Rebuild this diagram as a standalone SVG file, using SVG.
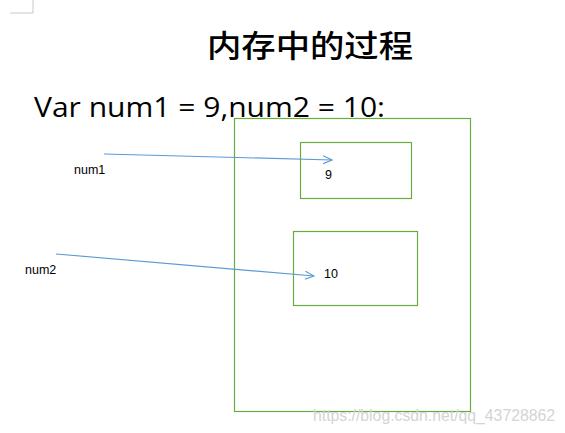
<svg xmlns="http://www.w3.org/2000/svg" width="565" height="433" viewBox="0 0 565 433">
<style>
.box{fill:none;stroke:#6aab3f;stroke-width:1.2}
.conn{fill:none;stroke:#5b9bd5;stroke-width:1.2}
.lbl{font-family:"Liberation Sans","DejaVu Sans",sans-serif;font-size:12.5px;fill:#000}
</style>
<defs>
<marker id="arr" viewBox="0 0 10 10" refX="9" refY="5" markerWidth="10" markerHeight="10" markerUnits="userSpaceOnUse" orient="auto">
<path d="M0,1 L9,5 L0,9" fill="none" stroke="#5b9bd5" stroke-width="1.1"/>
</marker>
</defs>
<rect width="565" height="433" fill="#fff"/>
<path d="M33,0 V13 H10" fill="none" stroke="#c8c8c8" stroke-width="1"/>
<text x="207" y="57" font-family="'Noto Sans CJK SC',sans-serif" font-size="31" font-weight="500" textLength="206" lengthAdjust="spacingAndGlyphs" fill="#000">内存中的过程</text>
<text x="34" y="117" font-family="'Open Sans','Liberation Sans',sans-serif" font-size="27" textLength="351" lengthAdjust="spacingAndGlyphs" fill="#000">Var num1 = 9,num2 = 10:</text>
<g id="memory"><rect class="box" x="234.5" y="118.5" width="236" height="293"/></g>
<g id="cell9"><rect class="box" x="300.5" y="142.5" width="111" height="56"/><text class="lbl" x="325" y="179">9</text></g>
<g id="cell10"><rect class="box" x="293.5" y="231.5" width="124" height="74"/><text class="lbl" x="324" y="278" font-size="13">10</text></g>
<g id="var1"><text class="lbl" x="74" y="174">num1</text></g>
<g id="var2"><text class="lbl" x="25" y="274">num2</text></g>
<g id="connectors">
<line class="conn" x1="104" y1="154" x2="332" y2="160" marker-end="url(#arr)"/>
<line class="conn" x1="56" y1="254" x2="314" y2="276" marker-end="url(#arr)"/>
</g>
<text x="313" y="421" font-family="'Liberation Sans',sans-serif" font-size="16" textLength="242" lengthAdjust="spacingAndGlyphs" fill="#d4d4d4">https://blog.csdn.net/qq_43728862</text>
</svg>
